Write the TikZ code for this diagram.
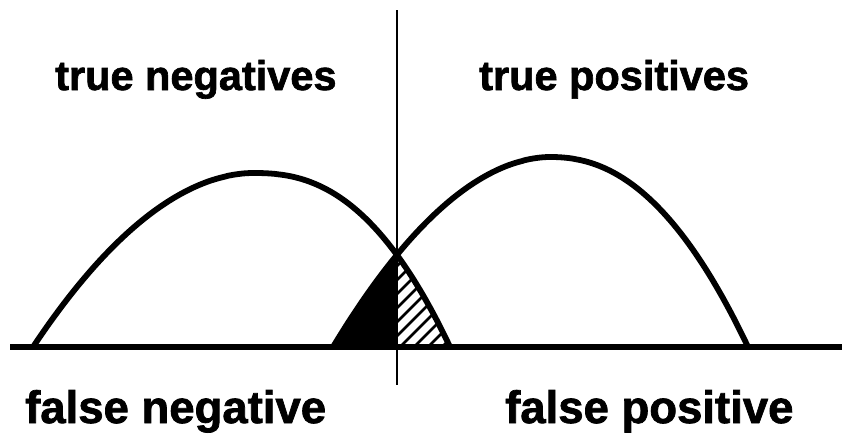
\documentclass[tikz,border=0pt]{standalone}
\usepackage{fontspec}
\setmainfont{Liberation Sans}
\newfontfamily\heavyfont{Liberation Sans Bold}[FakeBold=1.6]
\begin{document}
\begin{tikzpicture}[x=1pt,y=-1pt,
  curve/.style={line width=5.8pt,line join=round},
  axis/.style={line width=5.5pt},
  divider/.style={line width=2.2pt},
  hatch/.style={line width=2.6pt},
  toplabel/.style={font=\fontsize{41.5}{45}\heavyfont,inner sep=0pt,anchor=base west},
  botlabel/.style={font=\fontsize{45.5}{49}\heavyfont,inner sep=0pt,anchor=base west}]
\useasboundingbox (0,0) rectangle (842,439);
% left curve: peak (253,173), ends 33 and 450
\def\leftcurve{plot[domain=1:0.001,samples=80,variable=\t] ({253-220*\t},{347-174*(1-pow(\t,1.9))}) -- plot[domain=0.001:1,samples=80,variable=\t] ({253+197*\t},{347-174*(1-pow(\t,2.4))})}
% right curve: peak (550,157), ends 333 and 748
\def\rightcurve{plot[domain=1:0.001,samples=80,variable=\t] ({550-217*\t},{347-190*(1-pow(\t,1.9))}) -- plot[domain=0.001:1,samples=80,variable=\t] ({550+198*\t},{347-190*(1-pow(\t,2.2))})}
% black region
\begin{scope}
  \clip (0,0) rectangle (397,347);
  \fill[black] \rightcurve -- cycle;
\end{scope}
% hatched region
\begin{scope}
  \clip (397,0) rectangle (842,347);
  \clip \leftcurve -- cycle;
  \foreach \i in {-98,-84,...,60} {
    \draw[hatch] (397+\i,350) -- (497+\i,250);
  }
\end{scope}
% divider
\coordinate (vt) at (397,10);
\coordinate (vb) at (397,385);
\draw[divider] (vt) -- (vb);
% curves
\draw[curve] \leftcurve;
\draw[curve] \rightcurve;
% baseline
\coordinate (bl) at (10,347);
\coordinate (br) at (842,347);
\draw[axis] (bl) -- (br);
% labels
\node[toplabel] (tn) at (55,90) {true negatives};
\node[toplabel] (tp) at (479,90) {true positives};
\node[botlabel] (fn) at (25,423) {false negative};
\node[botlabel] (fp) at (505,423) {false positive};
\end{tikzpicture}
\end{document}
